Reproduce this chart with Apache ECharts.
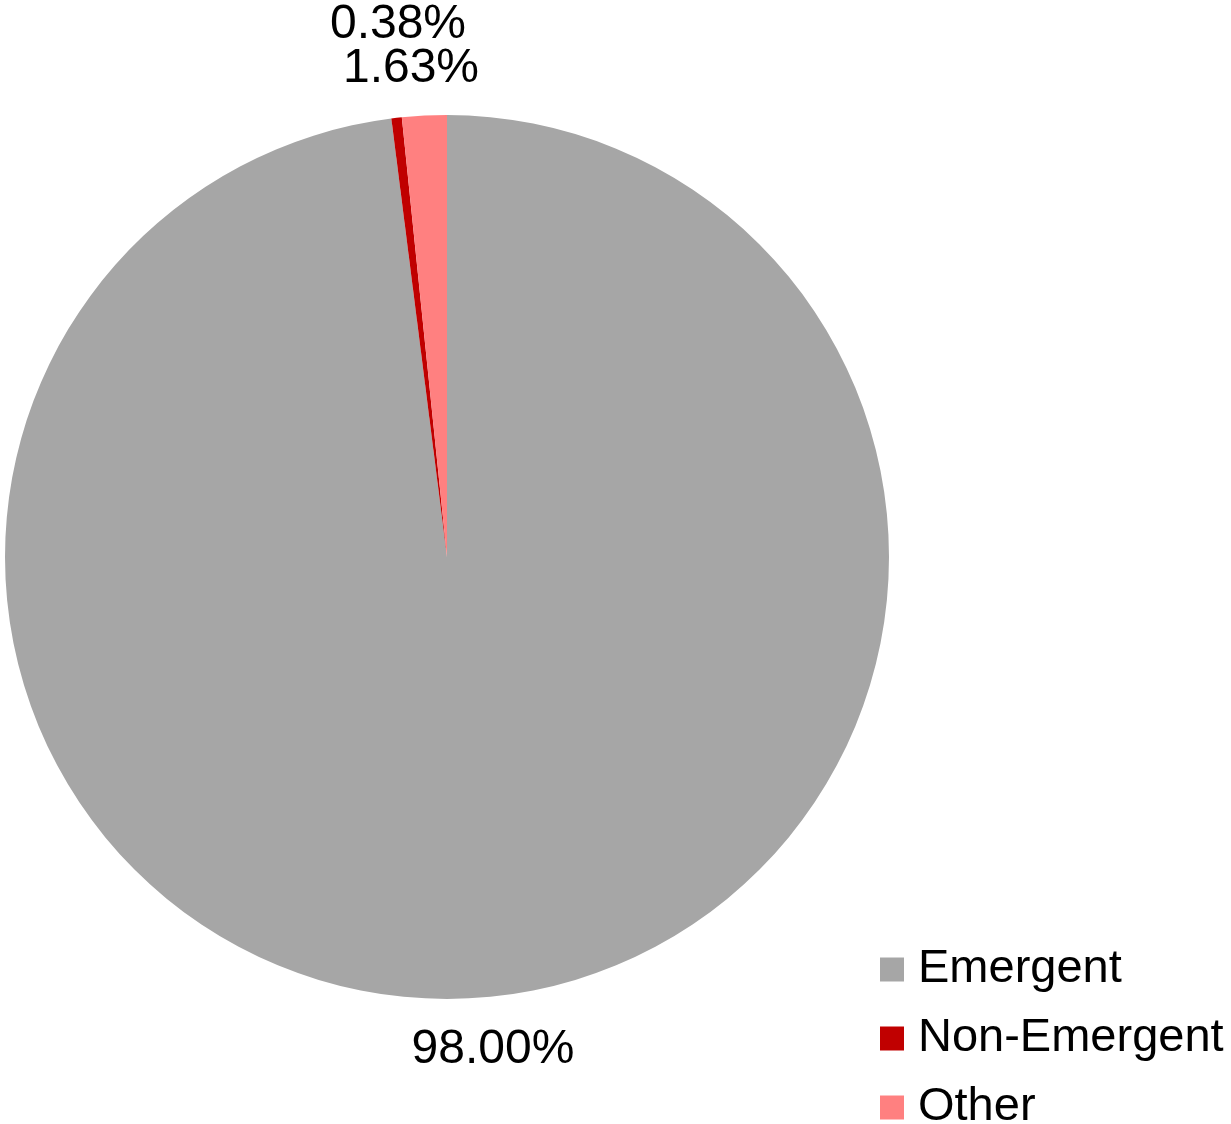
<!DOCTYPE html>
<html>
<head>
<meta charset="utf-8">
<script src="https://cdn.jsdelivr.net/npm/echarts@6/dist/echarts.min.js"></script>
<style>html,body{margin:0;padding:0;background:#fff;}#c{width:1231px;height:1124px;}</style>
</head>
<body>
<div id="c"></div>
<script>
const categories = ['Emergent', 'Non-Emergent', 'Other'];
const values = [98.00, 0.38, 1.63];
const colors = ['#a6a6a6', '#c00000', '#ff8080'];
const labelSpots = [[493, 1050], [398, 25], [411, 69]];

const chart = echarts.init(document.getElementById('c'));
chart.setOption({
  animation: false,
  legend: {
    orient: 'vertical',
    left: 880,
    top: 946,
    width: 351,
    height: 220,
    padding: 0,
    itemWidth: 24,
    itemHeight: 24,
    itemGap: 22,
    icon: 'rect',
    textStyle: { fontFamily: 'Liberation Sans', fontSize: 47, color: '#000', padding: [0, 0, 0, 9] },
    data: categories
  },
  series: [{
    type: 'pie',
    center: [447, 557],
    radius: [0, 442],
    startAngle: 90,
    clockwise: true,
    avoidLabelOverlap: false,
    data: categories.map((n, i) => ({ name: n, value: values[i], itemStyle: { color: colors[i] } })),
    label: {
      show: true,
      position: 'outside',
      formatter: p => p.value.toFixed(2) + '%',
      fontFamily: 'Liberation Sans',
      fontSize: 48,
      color: '#000'
    },
    labelLine: { show: false },
    labelLayout: function (params) {
      const s = labelSpots[params.dataIndex];
      return { x: s[0], y: s[1], align: 'center', verticalAlign: 'middle' };
    },
    emphasis: { disabled: true }
  }]
});
</script>
</body>
</html>
